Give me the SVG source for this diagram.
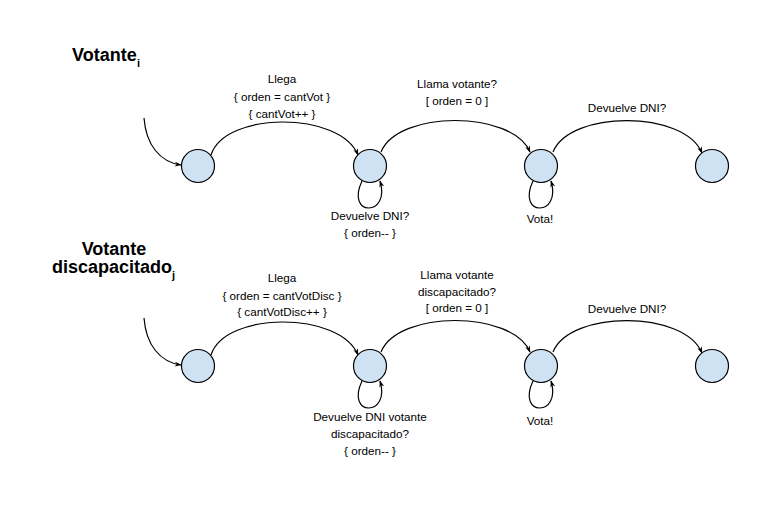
<svg xmlns="http://www.w3.org/2000/svg" width="781" height="510" viewBox="0 0 781 510">
<style>
.st{fill:#cfe2f3;stroke:#000;stroke-width:1.2}
.e{fill:none;stroke:#000;stroke-width:1.2;marker-end:url(#ah)}
.t{font-family:"Liberation Sans",Arial,sans-serif;font-size:11.7px;fill:#000;text-anchor:middle}
.h{font-family:"Liberation Sans",Arial,sans-serif;font-weight:bold;font-size:18px;fill:#000}
.s{font-family:"Liberation Sans",Arial,sans-serif;font-weight:bold;font-size:11px;fill:#000}
</style>
<defs>
<marker id="ah" viewBox="0 0 10 10" refX="9" refY="5" markerWidth="7" markerHeight="7" orient="auto" markerUnits="userSpaceOnUse">
<path d="M0,1.5 L10,5 L0,8.5 L3,5 Z" fill="#000"/>
</marker>
</defs>
<rect width="781" height="510" fill="#fff"/>
<g id="titles">
<text class="h" x="72" y="61">Votante</text><text class="s" x="137" y="67">i</text>
<text class="h" x="114" y="255" text-anchor="middle">Votante</text>
<text class="h" x="52" y="273">discapacitado</text><text class="s" x="172" y="279">j</text>
</g>
<g id="connectors">
<path class="e" d="M144,118 C146,145 160,162 181,165"/>
<path class="e" d="M211,155 C225,111 340,111 358,155"/>
<path class="e" d="M381,152 C398,110 512,110 530,152"/>
<path class="e" d="M553,152 C570,110 684,110 702,153"/>
<path class="e" d="M362,181 C345,217 391,217 380,181"/>
<path class="e" d="M533,181 C516,217 562,217 551,181"/>
<path class="e" d="M144,318 C146,345 160,362 181,365"/>
<path class="e" d="M211,355 C225,311 340,311 358,355"/>
<path class="e" d="M381,352 C398,310 512,310 530,352"/>
<path class="e" d="M553,352 C570,310 684,310 702,353"/>
<path class="e" d="M362,381 C345,417 391,417 380,381"/>
<path class="e" d="M533,381 C516,417 562,417 551,381"/>
</g>
<g id="labels">
<text class="t" x="282" y="83">Llega</text>
<text class="t" x="282" y="101">{ orden = cantVot }</text>
<text class="t" x="282" y="118">{ cantVot++ }</text>
<text class="t" x="457" y="88">Llama votante?</text>
<text class="t" x="457" y="105">[ orden = 0 ]</text>
<text class="t" x="627" y="112">Devuelve DNI?</text>
<text class="t" x="370" y="220">Devuelve DNI?</text>
<text class="t" x="370" y="237">{ orden-- }</text>
<text class="t" x="540" y="223">Vota!</text>
<text class="t" x="282" y="282">Llega</text>
<text class="t" x="282" y="300">{ orden = cantVotDisc }</text>
<text class="t" x="282" y="316">{ cantVotDisc++ }</text>
<text class="t" x="457" y="279">Llama votante</text>
<text class="t" x="457" y="296">discapacitado?</text>
<text class="t" x="457" y="312">[ orden = 0 ]</text>
<text class="t" x="627" y="313">Devuelve DNI?</text>
<text class="t" x="370" y="421">Devuelve DNI votante</text>
<text class="t" x="370" y="438">discapacitado?</text>
<text class="t" x="370" y="455">{ orden-- }</text>
<text class="t" x="540" y="425">Vota!</text>
</g>
<g id="v1"><circle class="st" cx="198" cy="166" r="16.5"/></g>
<g id="v2"><circle class="st" cx="370" cy="166" r="16.5"/></g>
<g id="v3"><circle class="st" cx="541" cy="166" r="16.5"/></g>
<g id="v4"><circle class="st" cx="712" cy="166" r="16.5"/></g>
<g id="d1"><circle class="st" cx="198" cy="366" r="16.5"/></g>
<g id="d2"><circle class="st" cx="370" cy="366" r="16.5"/></g>
<g id="d3"><circle class="st" cx="541" cy="366" r="16.5"/></g>
<g id="d4"><circle class="st" cx="712" cy="366" r="16.5"/></g>
</svg>
